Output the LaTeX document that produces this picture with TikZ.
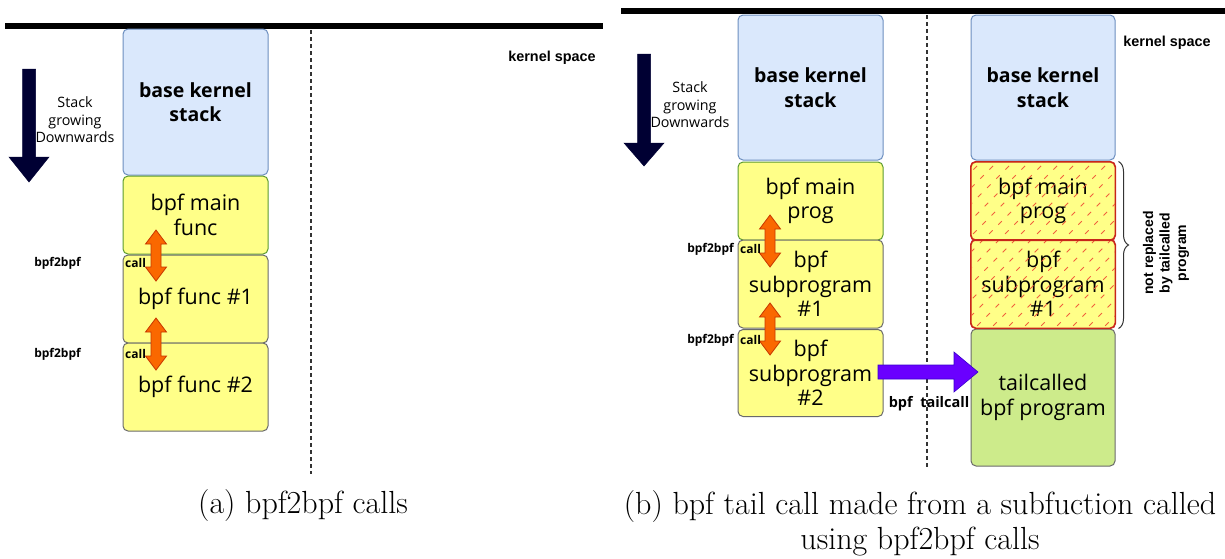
\documentclass[tikz,border=0pt]{standalone}
\usepackage{fontspec}
\usetikzlibrary{decorations.pathreplacing}
\newfontfamily\handfont{Open Sans}
\newfontfamily\labelfont{Liberation Sans}
\definecolor{basefill}{HTML}{DAE8FC}
\definecolor{baseline}{HTML}{6C8EBF}
\definecolor{funcfill}{HTML}{FFFF88}
\definecolor{greenline}{HTML}{5C9B2E}
\definecolor{grayline}{HTML}{6A6A6A}
\definecolor{redline}{HTML}{C8261A}
\definecolor{hatchred}{HTML}{F0603E}
\definecolor{tailfill}{HTML}{CDEB8B}
\definecolor{callfill}{HTML}{FA6800}
\definecolor{callline}{HTML}{C73500}
\definecolor{tailarrow}{HTML}{6A00FF}
\definecolor{tailarrowline}{HTML}{3700CC}
\definecolor{stackarrow}{HTML}{000033}
\definecolor{guide}{HTML}{333333}

\tikzset{
  box/.style={rounded corners=5pt, minimum width=145pt, inner sep=0pt,
    align=center, line width=1pt,
    font=\handfont\fontsize{21.5}{24.5}\selectfont},
  basebox/.style={box, fill=basefill, draw=baseline,
    font=\handfont\bfseries\fontsize{19.5}{24.5}\selectfont},
  mainbox/.style={box, fill=funcfill, draw=greenline},
  funcbox/.style={box, fill=funcfill, draw=grayline},
  keptbox/.style={box, fill=funcfill, draw=redline},
  tailbox/.style={box, fill=tailfill, draw=grayline},
  hatchline/.style={draw=hatchred, line width=0.9pt, dash pattern=on 5pt off 8pt},
  callarrow/.style={fill=callfill, draw=callline, line width=0.8pt, line join=miter},
  downarrow/.style={fill=stackarrow, draw=stackarrow, line width=0.5pt},
  jumparrow/.style={fill=tailarrow, draw=tailarrowline, line width=0.6pt},
  spaceline/.style={line width=6.5pt, black},
  boundary/.style={draw=guide, line width=1.1pt, dash pattern=on 4pt off 3pt},
  smalltag/.style={inner sep=0pt, font=\handfont\bfseries\fontsize{12}{13}\selectfont},
  note/.style={inner sep=0pt, align=center, font=\handfont\fontsize{14.3}{17.5}\selectfont},
  spacetag/.style={inner sep=0pt, font=\labelfont\bfseries\fontsize{14.4}{17}\selectfont},
  caption/.style={inner sep=0pt, align=center, font=\fontsize{32}{35}\selectfont}
}

% vertical double-headed call arrow: centre x, top tip y, bottom tip y
\newcommand\callpair[3]{%
  \filldraw[callarrow] (#1,#2) -- (#1+10.5,#2+14) -- (#1+5,#2+14) -- (#1+5,#3-14)
    -- (#1+10.5,#3-14) -- (#1,#3) -- (#1-10.5,#3-14) -- (#1-5,#3-14)
    -- (#1-5,#2+14) -- (#1-10.5,#2+14) -- cycle;}
% downward block arrow: centre x, shaft top, head base, tip
\newcommand\growarrow[4]{%
  \filldraw[downarrow] (#1-6.5,#2) -- (#1+6.5,#2) -- (#1+6.5,#3) -- (#1+20,#3)
    -- (#1,#4) -- (#1-20,#3) -- (#1-6.5,#3) -- cycle;}

\begin{document}
\begin{tikzpicture}[x=1pt,y=-1pt]
\useasboundingbox (0,0) rectangle (1225,558);

% ---------------- left: bpf2bpf calls ----------------
\draw[spaceline] (5,26) -- (603,26);
\draw[boundary] (311,30) -- (311,474);
\node[spacetag] (lspace) at (552,58) {kernel space};

\growarrow{29}{69}{157}{182}
\node[note] (lgrow) at (75,120) {Stack\\growing\\Downwards};

\node[basebox, minimum height=146pt] (lbase) at (195.5,102) {base kernel\\stack};
\node[mainbox, minimum height=78pt] (lmain) at (195.5,215) {bpf main\\func};
\node[funcbox, minimum height=88pt] (lf1) at (195.5,299) {bpf func \#1};
\node[funcbox, minimum height=88pt] (lf2) at (195.5,387) {bpf func \#2};

\callpair{156}{230}{281}
\callpair{156}{318}{370}
\node[smalltag, anchor=east] (lcall1a) at (81,263) {bpf2bpf};
\node[smalltag, anchor=west] (lcall1b) at (125,263) {call};
\node[smalltag, anchor=east] (lcall2a) at (81,354) {bpf2bpf};
\node[smalltag, anchor=west] (lcall2b) at (125,354) {call};

\node[caption] (capa) at (303,506) {(a) bpf2bpf calls};

% ---------------- right: tail call from a subprogram ----------------
\draw[spaceline] (621,11) -- (1225,11);
\draw[boundary] (927,15) -- (927,468);
\node[spacetag] (rspace) at (1167,43) {kernel space};

\growarrow{644}{54}{143}{166}
\node[note] (rgrow) at (690,105) {Stack\\growing\\Downwards};

\node[basebox, minimum height=145pt] (rbase) at (810.5,87.5) {base kernel\\stack};
\node[mainbox, minimum height=78pt] (rmain) at (810.5,201) {bpf main\\prog};
\node[funcbox, minimum height=88pt] (rs1) at (810.5,284) {bpf\\subprogram\\\#1};
\node[funcbox, minimum height=87pt] (rs2) at (810.5,373) {bpf\\subprogram\\\#2};

\callpair{770}{215}{267}
\callpair{770}{303}{355}
\node[smalltag, anchor=east] (rcall1a) at (734,249) {bpf2bpf};
\node[smalltag, anchor=west] (rcall1b) at (740,249) {call};
\node[smalltag, anchor=east] (rcall2a) at (734,340) {bpf2bpf};
\node[smalltag, anchor=west] (rcall2b) at (740,340) {call};

\node[basebox, minimum width=144pt, minimum height=145pt] (tbase) at (1043,87.5) {base kernel\\stack};
\node[keptbox, minimum width=144pt, minimum height=78pt] (tmain) at (1043,201) {bpf main\\prog};
\node[keptbox, minimum width=144pt, minimum height=88pt] (ts1) at (1043,284) {bpf\\subprogram\\\#1};
\node[tailbox, minimum width=144pt, minimum height=137pt] (ttail) at (1043,397.5) {tailcalled\\bpf program};

% hatching over the frames kept after the tail call
\begin{scope}
  \clip[rounded corners=5pt] (tmain.north west) rectangle (ts1.south east);
  \foreach \i in {-200,-184,...,1120} {
    \draw[hatchline] (\i,335) -- ++(180,-180);
  }
\end{scope}
\draw[rounded corners=5pt, draw=redline, line width=1pt] (tmain.north west) rectangle (tmain.south east);
\draw[rounded corners=5pt, draw=redline, line width=1pt] (ts1.north west) rectangle (ts1.south east);

\draw[decorate, decoration={brace, amplitude=10pt}, draw=guide, line width=1pt]
  ([xshift=3pt]tmain.north east) -- ([xshift=3pt]ts1.south east);
\node[inner sep=0pt, align=center, rotate=90,
  font=\labelfont\bfseries\fontsize{14}{16.5}\selectfont] (kept) at (1166,253)
  {not replaced\\by tailcalled\\program};

% tail call jump
\filldraw[jumparrow] (878,365) -- (954,365) -- (954,352) -- (978,372)
  -- (954,392) -- (954,379) -- (878,379) -- cycle;
\node[smalltag, font=\handfont\bfseries\fontsize{14.5}{16}\selectfont] (jump) at (929,404) {bpf \ tailcall};

\node[caption] (capb) at (920,523.5) {(b) bpf tail call made from a subfuction called\\using bpf2bpf calls};
\end{tikzpicture}
\end{document}
